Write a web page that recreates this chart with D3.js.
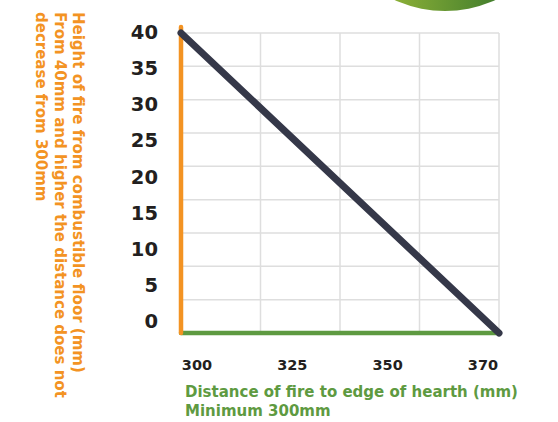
<!DOCTYPE html>
<html>
<head>
<meta charset="utf-8">
<script src="https://cdn.jsdelivr.net/npm/d3@7"></script>
<style>
  html, body { margin: 0; padding: 0; background: #ffffff; }
  svg { display: block; }
  text { font-family: "DejaVu Sans", sans-serif; font-weight: bold; }
</style>
</head>
<body>
<svg id="chart" width="558" height="422"></svg>
<script>
// ---- data ----
const xDomain = [300, 370];
const yDomain = [0, 40];
const lineData = [ { x: 300, y: 40 }, { x: 370, y: 0 } ];
const xTickLabels = ["300", "325", "350", "370"];
const yTickLabels = ["40", "35", "30", "25", "20", "15", "10", "5", "0"];
const xGridCount = 4;   // vertical grid intervals
const yGridCount = 9;   // horizontal grid intervals
const yTitleLines = [
  "Height of fire from combustible floor (mm)",
  "From 40mm and higher the distance does not",
  "decrease from 300mm"
];
const xTitleLines = [
  "Distance of fire to edge of hearth (mm)",
  "Minimum 300mm"
];

// ---- layout ----
const W = 558, H = 422;
const plot = { left: 181, right: 499, top: 33, bottom: 333 };
const colors = {
  orange: "#f39323",
  green: "#5e9a41",
  dark: "#353849",
  grid: "#dedede",
  text: "#231f20"
};

const svg = d3.select("#chart");

const x = d3.scaleLinear().domain(xDomain).range([plot.left, plot.right]);
const y = d3.scaleLinear().domain(yDomain).range([plot.bottom, plot.top]);
const xGrid = d3.scaleLinear().domain([0, xGridCount]).range([plot.left, plot.right]);
const yGrid = d3.scaleLinear().domain([0, yGridCount]).range([plot.bottom, plot.top]);

// decorative green circle (top right)
const defs = svg.append("defs");
const grad = defs.append("linearGradient").attr("id", "gcirc")
  .attr("x1", "0%").attr("x2", "100%").attr("y1", "0%").attr("y2", "0%");
grad.append("stop").attr("offset", "25%").attr("stop-color", "#92b438");
grad.append("stop").attr("offset", "75%").attr("stop-color", "#3d7a2c");
svg.append("circle").attr("cx", 445).attr("cy", -110).attr("r", 121)
  .attr("fill", "url(#gcirc)");

// grid
const g = svg.append("g");
g.selectAll("line.h").data(d3.range(1, yGridCount + 1)).join("line")
  .attr("class", "h")
  .attr("x1", plot.left).attr("x2", plot.right)
  .attr("y1", d => yGrid(d)).attr("y2", d => yGrid(d))
  .attr("stroke", colors.grid).attr("stroke-width", 1.5);
g.selectAll("line.v").data(d3.range(1, xGridCount + 1)).join("line")
  .attr("class", "v")
  .attr("y1", plot.top).attr("y2", plot.bottom)
  .attr("x1", d => xGrid(d)).attr("x2", d => xGrid(d))
  .attr("stroke", colors.grid).attr("stroke-width", 1.5);

// axes lines
svg.append("line")
  .attr("x1", x(xDomain[0])).attr("x2", x(xDomain[1]))
  .attr("y1", y(0)).attr("y2", y(0))
  .attr("stroke", colors.green).attr("stroke-width", 4.5).attr("stroke-linecap", "round");
svg.append("line")
  .attr("x1", x(xDomain[0])).attr("x2", x(xDomain[0]))
  .attr("y1", y(0)).attr("y2", y(yDomain[1]) - 6)
  .attr("stroke", colors.orange).attr("stroke-width", 4.5).attr("stroke-linecap", "round");

// data line
svg.append("path").datum(lineData)
  .attr("d", d3.line().x(d => x(d.x)).y(d => y(d.y)))
  .attr("fill", "none").attr("stroke", colors.dark)
  .attr("stroke-width", 7).attr("stroke-linecap", "round");

// y tick labels
const yLab = d3.scalePoint().domain(yTickLabels).range([32, 321]);
svg.selectAll("text.yl").data(yTickLabels).join("text")
  .attr("class", "yl")
  .attr("x", 158).attr("y", d => yLab(d))
  .attr("dy", "0.36em")
  .attr("text-anchor", "end")
  .attr("font-size", 19.5)
  .attr("fill", colors.text)
  .text(d => d);

// x tick labels
const xLab = d3.scalePoint().domain(xTickLabels).range([197, 483]);
svg.selectAll("text.xl").data(xTickLabels).join("text")
  .attr("class", "xl")
  .attr("x", d => xLab(d)).attr("y", 370)
  .attr("text-anchor", "middle")
  .attr("font-size", 14.5)
  .attr("fill", colors.text)
  .text(d => d);

// y title (rotated)
const yTitleX = [73, 54.5, 35.5];
yTitleLines.forEach((t, i) => {
  svg.append("text")
    .attr("transform", `translate(${yTitleX[i]},12) rotate(90)`)
    .attr("font-size", 15)
    .attr("fill", colors.orange)
    .text(t);
});

// x title
const xTitleY = [397, 416];
xTitleLines.forEach((t, i) => {
  svg.append("text")
    .attr("x", 185).attr("y", xTitleY[i])
    .attr("font-size", 15)
    .attr("fill", colors.green)
    .text(t);
});
</script>
</body>
</html>
